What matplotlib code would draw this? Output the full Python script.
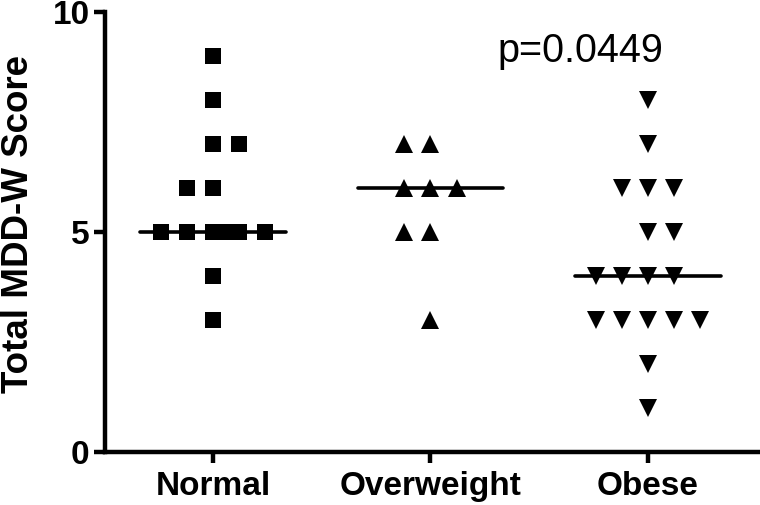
import matplotlib
matplotlib.use("Agg")
import matplotlib.pyplot as plt
import numpy as np

plt.rcParams['font.family'] = ['Liberation Sans', 'DejaVu Sans']

categories = ["Normal", "Overweight", "Obese"]
normal = [9, 8, 7, 7, 6, 6, 5, 5, 5, 5, 5, 5, 4, 3]
overweight = [7, 7, 6, 6, 6, 5, 5, 3]
obese = [8, 7, 6, 6, 6, 5, 5, 4, 4, 4, 4, 3, 3, 3, 3, 3, 2, 1]
p_text = "p=0.0449"
y_ticks = [0, 5, 10]

# horizontal layout of tied points (in units of point spacing)
normal_off = [0, 0, 0, 1, -1, 0, -2, -1, 0, 0.5, 1, 2, 0, 0]
overweight_off = [-1, 0, -1, 0, 1, -1, 0, 0]
obese_off = [0, 0, -1, 0, 1, 0, 1, -2, -1, 0, 1, -2, -1, 0, 1, 2, 0, 0]

groups = [normal, overweight, obese]
offsets = [normal_off, overweight_off, obese_off]
markers = ['s', '^', 'v']
msizes = [11, 12.5, 12.5]
step = 0.12
half = 0.335

fig = plt.figure(figsize=(7.6, 5.05), dpi=100)
ax = fig.add_axes([0.138, 0.105, 0.862, 0.871])

for i, (vals, offs, m, ms) in enumerate(zip(groups, offsets, markers, msizes)):
    xs = i + np.array(offs) * step
    ax.plot(xs, vals, linestyle='none', marker=m, markersize=ms,
            color='black', markeredgewidth=0)
    med = np.median(vals)
    ax.plot([i - half, i + half], [med, med], color='black', lw=2.6,
            solid_capstyle='round')

ax.text(1.31, 8.86, p_text, fontsize=28.5, ha='left', va='baseline')

ax.set_xlim(-0.497, 2.515)
ax.set_ylim(0, 10)
ax.set_xticks(range(len(categories)))
ax.set_xticklabels(categories, fontsize=24, fontweight='bold')
ax.set_yticks(y_ticks)
ax.set_yticklabels([str(t) for t in y_ticks], fontsize=24, fontweight='bold')
ax.set_ylabel("Total MDD-W Score", fontsize=26.5, fontweight='bold')
ax.yaxis.set_label_coords(-0.105, 0.518)

for s in ['top', 'right']:
    ax.spines[s].set_visible(False)
for s in ['left', 'bottom']:
    ax.spines[s].set_linewidth(3.2)
ax.tick_params(axis='both', width=3.2, length=8, direction='out')
ax.tick_params(axis='y', pad=3)
ax.tick_params(axis='x', pad=6)
for lab in ax.get_xticklabels() + ax.get_yticklabels():
    lab.set_clip_on(False)

fig.savefig("out.png", dpi=100)
